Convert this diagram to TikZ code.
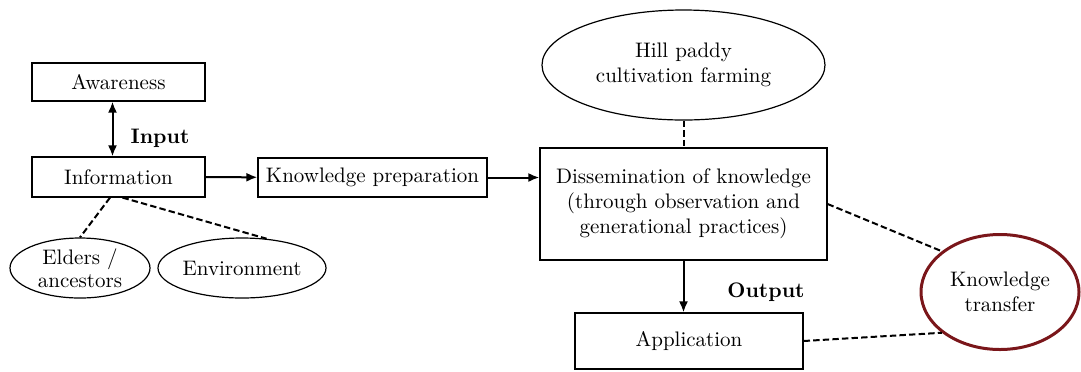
\documentclass[tikz,border=0pt]{standalone}
\usetikzlibrary{shapes.geometric,arrows.meta}
\definecolor{ktred}{RGB}{122,22,26}
\begin{document}
\begin{tikzpicture}[x=0.5pt,y=-0.5pt,
  font=\fontsize{10.5}{12.5}\selectfont,
  box/.style={draw,line width=0.6pt,align=center,inner sep=1pt},
  oval/.style={draw,ellipse,line width=0.6pt,align=center,inner sep=0pt},
  conn/.style={line width=1pt,-{Latex[length=5.5pt,width=4.5pt]}},
  link/.style={line width=1pt,dash pattern=on 3.2pt off 1.6pt}]
  \useasboundingbox (0,0) rectangle (1081,371);
  % left column
  \node[box,minimum width=86.5pt,minimum height=19pt] (aware) at (118.5,82) {Awareness};
  \node[box,minimum width=86.5pt,minimum height=20pt] (info) at (118.5,177) {Information};
  \node[oval,minimum width=70pt,minimum height=30pt] (elders) at (80,268) {Elders /\\[-1pt]ancestors};
  \node[oval,minimum width=80pt,minimum height=30pt] (env) at (242,268) {Environment};
  \node[font=\fontsize{10.5}{12.5}\selectfont\bfseries] (input) at (160,138) {Input};
  % middle
  \node[box,minimum width=114.5pt,minimum height=19.5pt] (prep) at (372.5,177.5) {Knowledge preparation};
  \node[box,minimum width=143.5pt,minimum height=56pt] (dissem) at (683.5,204)
    {Dissemination of knowledge\\(through observation and\\generational practices)};
  \node[oval,minimum width=141.5pt,minimum height=55pt] (hill) at (683.5,65) {Hill paddy\\cultivation farming};
  \node[box,minimum width=114pt,minimum height=28pt] (app) at (689,341) {Application};
  \node[font=\fontsize{10.5}{12.5}\selectfont\bfseries] (output) at (766,292) {Output};
  % right
  \node[oval,draw=ktred,line width=1.5pt,minimum width=79pt,minimum height=57.5pt] (kt) at (1000,292) {Knowledge\\transfer};
  % arrows
  \draw[line width=1pt,{Latex[length=5.5pt,width=4.5pt]}-{Latex[length=5.5pt,width=4.5pt]}]
    ([xshift=-3pt]aware.south) -- ([xshift=-3pt]info.north);
  \draw[conn] (info) -- (prep);
  \draw[conn] (prep.east) -- (prep.east -| dissem.west);
  \draw[conn] (dissem) -- (dissem.south |- app.north);
  % dashed links
  \draw[link] ([xshift=-4.25pt]info.south) -- (elders.north);
  \draw[link] ([xshift=2pt]info.south) -- (env.50);
  \draw[link] (hill.south) -- (dissem.north);
  \draw[link] (dissem.east) -- (kt.145);
  \draw[link] (app.east) -- (kt.215);
\end{tikzpicture}
\end{document}
